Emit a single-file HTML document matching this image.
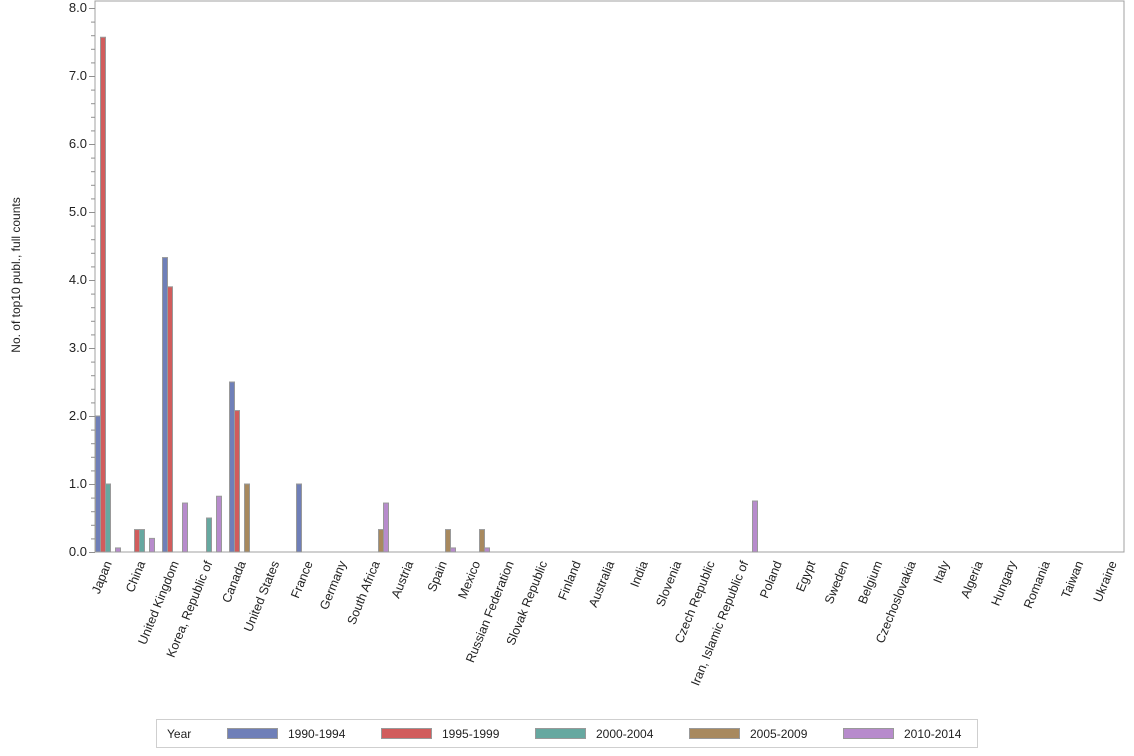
<!DOCTYPE html>
<html><head><meta charset="utf-8"><style>
html,body{margin:0;padding:0;background:#fff;}
svg{display:block;font-family:"Liberation Sans",Arial,sans-serif;}
</style></head><body>
<svg width="1134" height="756" viewBox="0 0 1134 756" xmlns="http://www.w3.org/2000/svg">
<rect x="0" y="0" width="1134" height="756" fill="#fff"/>
<rect x="95" y="1" width="1029" height="551" fill="none" stroke="#a0a0a0" stroke-width="1"/>
<g id="ticks" stroke="#909090" stroke-width="1"></g>
<g font-size="13" fill="#222" text-anchor="end">
<text x="87" y="556">0.0</text>
<text x="87" y="488">1.0</text>
<text x="87" y="420">2.0</text>
<text x="87" y="352">3.0</text>
<text x="87" y="284">4.0</text>
<text x="87" y="216">5.0</text>
<text x="87" y="148">6.0</text>
<text x="87" y="80">7.0</text>
<text x="87" y="12">8.0</text>
</g>
<text transform="translate(20,275) rotate(-90)" font-size="12" fill="#222" text-anchor="middle">No. of top10 publ., full counts</text>
<g id="bars" stroke="#999" stroke-width="1"></g>
<g id="labels" font-size="12.5" fill="#222" text-anchor="end">
<text transform="translate(112,563) rotate(-68)">Japan</text>
<text transform="translate(145.5,563) rotate(-68)">China</text>
<text transform="translate(179,563) rotate(-68)">United Kingdom</text>
<text transform="translate(212.5,563) rotate(-68)">Korea, Republic of</text>
<text transform="translate(246,563) rotate(-68)">Canada</text>
<text transform="translate(279.5,563) rotate(-68)">United States</text>
<text transform="translate(313,563) rotate(-68)">France</text>
<text transform="translate(346.5,563) rotate(-68)">Germany</text>
<text transform="translate(380,563) rotate(-68)">South Africa</text>
<text transform="translate(413.5,563) rotate(-68)">Austria</text>
<text transform="translate(447,563) rotate(-68)">Spain</text>
<text transform="translate(480.5,563) rotate(-68)">Mexico</text>
<text transform="translate(514,563) rotate(-68)">Russian Federation</text>
<text transform="translate(547.5,563) rotate(-68)">Slovak Republic</text>
<text transform="translate(581,563) rotate(-68)">Finland</text>
<text transform="translate(614.5,563) rotate(-68)">Australia</text>
<text transform="translate(648,563) rotate(-68)">India</text>
<text transform="translate(681.5,563) rotate(-68)">Slovenia</text>
<text transform="translate(715,563) rotate(-68)">Czech Republic</text>
<text transform="translate(748.5,563) rotate(-68)">Iran, Islamic Republic of</text>
<text transform="translate(782,563) rotate(-68)">Poland</text>
<text transform="translate(815.5,563) rotate(-68)">Egypt</text>
<text transform="translate(849,563) rotate(-68)">Sweden</text>
<text transform="translate(882.5,563) rotate(-68)">Belgium</text>
<text transform="translate(916,563) rotate(-68)">Czechoslovakia</text>
<text transform="translate(949.5,563) rotate(-68)">Italy</text>
<text transform="translate(983,563) rotate(-68)">Algeria</text>
<text transform="translate(1016.5,563) rotate(-68)">Hungary</text>
<text transform="translate(1050,563) rotate(-68)">Romania</text>
<text transform="translate(1083.5,563) rotate(-68)">Taiwan</text>
<text transform="translate(1117,563) rotate(-68)">Ukraine</text>
</g>
<rect x="156.5" y="719.5" width="821" height="28" fill="#fff" stroke="#cfcfcf"/>
<g font-size="12" fill="#222">
<text x="167" y="738">Year</text>
<rect x="227.5" y="728.5" width="50" height="10" fill="#6f7fb8" stroke="#999"/><text x="288" y="738">1990-1994</text>
<rect x="381.5" y="728.5" width="50" height="10" fill="#d15c5c" stroke="#999"/><text x="442" y="738">1995-1999</text>
<rect x="535.5" y="728.5" width="50" height="10" fill="#66a8a0" stroke="#999"/><text x="596" y="738">2000-2004</text>
<rect x="689.5" y="728.5" width="50" height="10" fill="#a8895e" stroke="#999"/><text x="750" y="738">2005-2009</text>
<rect x="843.5" y="728.5" width="50" height="10" fill="#b78bcc" stroke="#999"/><text x="904" y="738">2010-2014</text>
</g>
<script>
(function(){
var ns="http://www.w3.org/2000/svg";
var t=document.getElementById("ticks");
for(var i=0;i<=40;i++){var y=552-i*68/5;var l=document.createElementNS(ns,"line");
l.setAttribute("x1",i%5==0?89:91);l.setAttribute("x2",95);l.setAttribute("y1",y+0.5);l.setAttribute("y2",y+0.5);t.appendChild(l);}
var cols=["#6f7fb8","#d15c5c","#66a8a0","#a8895e","#b78bcc"];
var data={0:[2,7.57,1,0,0.06],1:[0,0.33,0.33,0,0.2],2:[4.33,3.9,0,0,0.72],3:[0,0,0.5,0,0.82],4:[2.5,2.08,0,1,0],6:[1,0,0,0,0],8:[0,0,0,0.33,0.72],10:[0,0,0,0.33,0.06],11:[0,0,0,0.33,0.06],19:[0,0,0,0,0.75]};
var b=document.getElementById("bars");
for(var k in data){var s=95+k*33.5;for(var j=0;j<5;j++){var v=data[k][j];if(!v)continue;
var r=document.createElementNS(ns,"rect");var h=v*68;
r.setAttribute("x",Math.round(s+j*5)+0.5);r.setAttribute("y",552-h);r.setAttribute("width",5);r.setAttribute("height",h);r.setAttribute("fill",cols[j]);b.appendChild(r);}}
})();
</script>
</svg>
</body></html>
